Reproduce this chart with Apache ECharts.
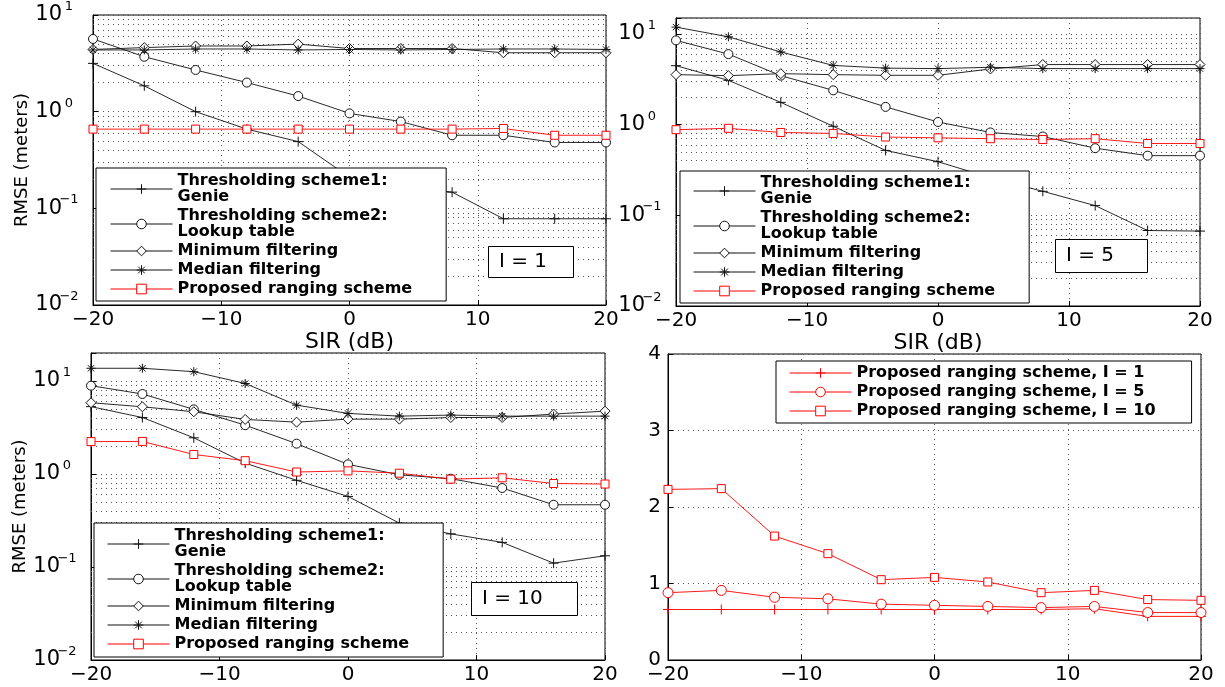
<!DOCTYPE html>
<html>
<head>
<meta charset="utf-8">
<title>RMSE vs SIR</title>
<script src="https://cdn.jsdelivr.net/npm/echarts@6/dist/echarts.min.js"></script>
<style>
  html, body { margin: 0; padding: 0; background: #fff; }
  #main { width: 1225px; height: 687px; }
</style>
</head>
<body>
<div id="main"></div>
<script>
// SIR (dB), same for every panel
const sirDb = [-20, -16, -12, -8, -4, 0, 4, 8, 12, 16, 20];

// I = 1
const genieI1 = [3.16, 1.85, 1.0, 0.66, 0.49, 0.21, 0.175, 0.147, 0.078, 0.078, 0.078];
const lookupI1 = [5.65, 3.7, 2.7, 2.0, 1.45, 0.96, 0.79, 0.57, 0.57, 0.48, 0.48];
const minFiltI1 = [4.4, 4.6, 4.78, 4.78, 5.0, 4.5, 4.5, 4.5, 4.07, 4.07, 4.07];
const medFiltI1 = [4.35, 4.35, 4.45, 4.45, 4.35, 4.4, 4.35, 4.4, 4.45, 4.45, 4.4];
const proposedI1 = [0.66, 0.66, 0.66, 0.66, 0.66, 0.66, 0.66, 0.66, 0.67, 0.57, 0.57];

// I = 5
const genieI5 = [4.47, 3.08, 1.76, 0.96, 0.52, 0.39, 0.26, 0.184, 0.128, 0.068, 0.067];
const lookupI5 = [8.5, 6.0, 3.47, 2.39, 1.57, 1.07, 0.82, 0.74, 0.55, 0.455, 0.455];
const minFiltI5 = [3.56, 3.47, 3.65, 3.56, 3.5, 3.5, 4.11, 4.6, 4.6, 4.6, 4.6];
const medFiltI5 = [11.9, 9.3, 6.33, 4.5, 4.2, 4.15, 4.29, 4.15, 4.15, 4.15, 4.15];
const proposedI5 = [0.88, 0.91, 0.82, 0.80, 0.73, 0.715, 0.70, 0.685, 0.70, 0.62, 0.62];

// I = 10
const genieI10 = [5.3, 4.05, 2.45, 1.31, 0.855, 0.574, 0.296, 0.227, 0.184, 0.11, 0.132];
const lookupI10 = [8.9, 7.25, 4.95, 3.35, 2.12, 1.27, 0.98, 0.89, 0.707, 0.467, 0.467];
const minFiltI10 = [5.84, 5.28, 4.67, 3.86, 3.61, 3.89, 3.89, 4.05, 4.05, 4.41, 4.74];
const medFiltI10 = [13.7, 13.7, 12.6, 9.4, 5.5, 4.48, 4.19, 4.3, 4.19, 4.19, 4.19];
const proposedI10 = [2.23, 2.24, 1.62, 1.39, 1.05, 1.08, 1.02, 0.88, 0.91, 0.79, 0.78];

// legend texts
const schemeNames = ['Thresholding scheme1:\nGenie', 'Thresholding scheme2:\nLookup table',
  'Minimum filtering', 'Median filtering', 'Proposed ranging scheme'];
const summaryNames = ['Proposed ranging scheme, I = 1', 'Proposed ranging scheme, I = 5',
  'Proposed ranging scheme, I = 10'];
const panelTags = ['I = 1', 'I = 5', 'I = 10'];

// minor log grid lines (2..9 in each decade)
const minorGridValues = [0.02, 0.03, 0.04, 0.05, 0.06, 0.07, 0.08, 0.09,
  0.2, 0.3, 0.4, 0.5, 0.6, 0.7, 0.8, 0.9, 2, 3, 4, 5, 6, 7, 8, 9];

const FONT = 'DejaVu Sans';
const PLUS = 'path://M5,0L5,10M0,5L10,5';
const STAR = 'path://M5,0L5,10M0,5L10,5M1.5,1.5L8.5,8.5M8.5,1.5L1.5,8.5';

const mk = {
  genie: { symbol: PLUS, size: 10, color: '#111' },
  lookup: { symbol: 'circle', size: 9, color: '#111' },
  minf: { symbol: 'diamond', size: 10, color: '#111' },
  medf: { symbol: STAR, size: 9, color: '#111' },
  prop: { symbol: 'rect', size: 8, color: '#ff0000' },
  rPlus: { symbol: PLUS, size: 10, color: '#ff0000' },
  rCircle: { symbol: 'circle', size: 10, color: '#ff0000' },
  rRect: { symbol: 'rect', size: 8, color: '#ff0000' }
};

const dotted = { color: '#555', width: 1, type: [1, 4] };

function lineSeries(name, values, idx, m, withMinor) {
  const s = {
    type: 'line', name: name, xAxisIndex: idx, yAxisIndex: idx,
    data: sirDb.map((x, i) => [x, values[i]]),
    symbol: m.symbol, symbolSize: m.size, showSymbol: true,
    lineStyle: { color: m.color, width: 0.9 },
    itemStyle: { color: '#fff', borderColor: m.color, borderWidth: 1 },
    emphasis: { disabled: true }, silent: true, animation: false
  };
  if (withMinor) {
    s.markLine = {
      silent: true, symbol: 'none', animation: false, z: 1,
      label: { show: false }, emphasis: { disabled: true },
      lineStyle: dotted,
      data: minorGridValues.map(v => ({ yAxis: v }))
    };
  }
  return s;
}

function xAxisFor(idx, withName) {
  return {
    type: 'value', gridIndex: idx, min: -20, max: 20, interval: 10,
    axisLine: { show: true, onZero: false, lineStyle: { color: '#000', width: 1 } },
    axisTick: { show: true, inside: true, length: 5, lineStyle: { color: '#000' } },
    axisLabel: { color: '#000', fontSize: 20, fontFamily: FONT, margin: 5,
      formatter: v => (v < 0 ? '\u2212' + (-v) : String(v)) },
    splitLine: { show: true, lineStyle: dotted },
    name: withName ? 'SIR (dB)' : '', nameLocation: 'middle', nameGap: 18,
    nameTextStyle: { color: '#000', fontSize: 22, fontFamily: FONT }
  };
}

function logLabel(v) {
  const l = Math.log10(v);
  const e = Math.round(l);
  if (Math.abs(l - e) > 1e-6) return '';
  return '{b|10}{s|' + (e < 0 ? '\u2212' + (-e) : e) + '}';
}

function logYAxisFor(idx, max, withName) {
  return {
    type: 'log', logBase: 10, gridIndex: idx, min: 0.01, max: max,
    axisLine: { show: true, onZero: false, lineStyle: { color: '#000', width: 1 } },
    axisTick: { show: true, inside: true, length: 5, lineStyle: { color: '#000' } },
    axisLabel: {
      color: '#000', fontFamily: FONT, margin: 17, formatter: logLabel,
      rich: {
        b: { fontSize: 21, fontFamily: FONT, color: '#000', lineHeight: 22 },
        s: { fontSize: 13, fontFamily: FONT, color: '#000', lineHeight: 14, width: 14, align: 'left',
          padding: [0, 0, 17, 0] }
      }
    },
    splitLine: { show: true, lineStyle: dotted },
    name: withName ? 'RMSE (meters)' : '', nameLocation: 'middle', nameGap: 58,
    nameTextStyle: { color: '#000', fontSize: 18, fontFamily: FONT }
  };
}

function legendFor(names, left, top, padding) {
  return {
    orient: 'vertical', left: left, top: top, data: names,
    itemWidth: 62, itemHeight: 12, itemGap: 3, padding: padding,
    borderColor: '#000', borderWidth: 1, backgroundColor: '#fff',
    selectedMode: false, itemStyle: { borderWidth: 1 }, lineStyle: { width: 1 },
    textStyle: { color: '#000', fontFamily: FONT, fontWeight: 'bold', fontSize: 16, lineHeight: 16 }
  };
}

function tagFor(text, left, top, padding) {
  return {
    text: text, left: left, top: top, padding: padding,
    borderColor: '#000', borderWidth: 1, backgroundColor: '#fff',
    textStyle: { color: '#000', fontFamily: FONT, fontWeight: 'normal', fontSize: 20, lineHeight: 22 }
  };
}

const chart = echarts.init(document.getElementById('main'));

const option = {
  animation: false,
  backgroundColor: '#fff',
  textStyle: { fontFamily: FONT },
  grid: [
    { left: 93, top: 15, width: 513, height: 290 },
    { left: 676, top: 18, width: 524, height: 288 },
    { left: 91, top: 353, width: 514, height: 307 },
    { left: 668, top: 354, width: 533, height: 306 }
  ].map(g => Object.assign(g, { show: true, borderColor: '#000', borderWidth: 1,
    backgroundColor: '#fff', containLabel: false, outerBoundsMode: 'none' })),
  xAxis: [xAxisFor(0, true), xAxisFor(1, true), xAxisFor(2, false), xAxisFor(3, false)],
  yAxis: [
    logYAxisFor(0, 10, true),
    logYAxisFor(1, 15, false),
    logYAxisFor(2, 20, true),
    {
      type: 'value', gridIndex: 3, min: 0, max: 4, interval: 1,
      axisLine: { show: true, onZero: false, lineStyle: { color: '#000', width: 1 } },
      axisTick: { show: true, inside: true, length: 5, lineStyle: { color: '#000' } },
      axisLabel: { color: '#000', fontSize: 20, fontFamily: FONT, margin: 7 },
      splitLine: { show: true, lineStyle: dotted }
    }
  ],
  legend: [
    legendFor(schemeNames, 96, 168, [5, 34, 4, 14]),
    legendFor(schemeNames, 680, 171, [4, 34, 4, 13]),
    legendFor(schemeNames, 94, 523, [5, 34, 5, 13]),
    legendFor(summaryNames, 776, 361, [4, 36, 4, 13])
  ],
  title: [
    tagFor(panelTags[0], 488, 246, [5, 27, 5, 11]),
    tagFor(panelTags[1], 1055, 239, [6, 34, 6, 11]),
    tagFor(panelTags[2], 471, 582, [6, 35, 6, 11])
  ],
  series: [
    lineSeries(schemeNames[0], genieI1, 0, mk.genie, true),
    lineSeries(schemeNames[1], lookupI1, 0, mk.lookup),
    lineSeries(schemeNames[2], minFiltI1, 0, mk.minf),
    lineSeries(schemeNames[3], medFiltI1, 0, mk.medf),
    lineSeries(schemeNames[4], proposedI1, 0, mk.prop),

    lineSeries(schemeNames[0], genieI5, 1, mk.genie, true),
    lineSeries(schemeNames[1], lookupI5, 1, mk.lookup),
    lineSeries(schemeNames[2], minFiltI5, 1, mk.minf),
    lineSeries(schemeNames[3], medFiltI5, 1, mk.medf),
    lineSeries(schemeNames[4], proposedI5, 1, mk.prop),

    lineSeries(schemeNames[0], genieI10, 2, mk.genie, true),
    lineSeries(schemeNames[1], lookupI10, 2, mk.lookup),
    lineSeries(schemeNames[2], minFiltI10, 2, mk.minf),
    lineSeries(schemeNames[3], medFiltI10, 2, mk.medf),
    lineSeries(schemeNames[4], proposedI10, 2, mk.prop),

    lineSeries(summaryNames[0], proposedI1, 3, mk.rPlus),
    lineSeries(summaryNames[1], proposedI5, 3, mk.rCircle),
    lineSeries(summaryNames[2], proposedI10, 3, mk.rRect)
  ]
};

chart.setOption(option);
</script>
</body>
</html>
